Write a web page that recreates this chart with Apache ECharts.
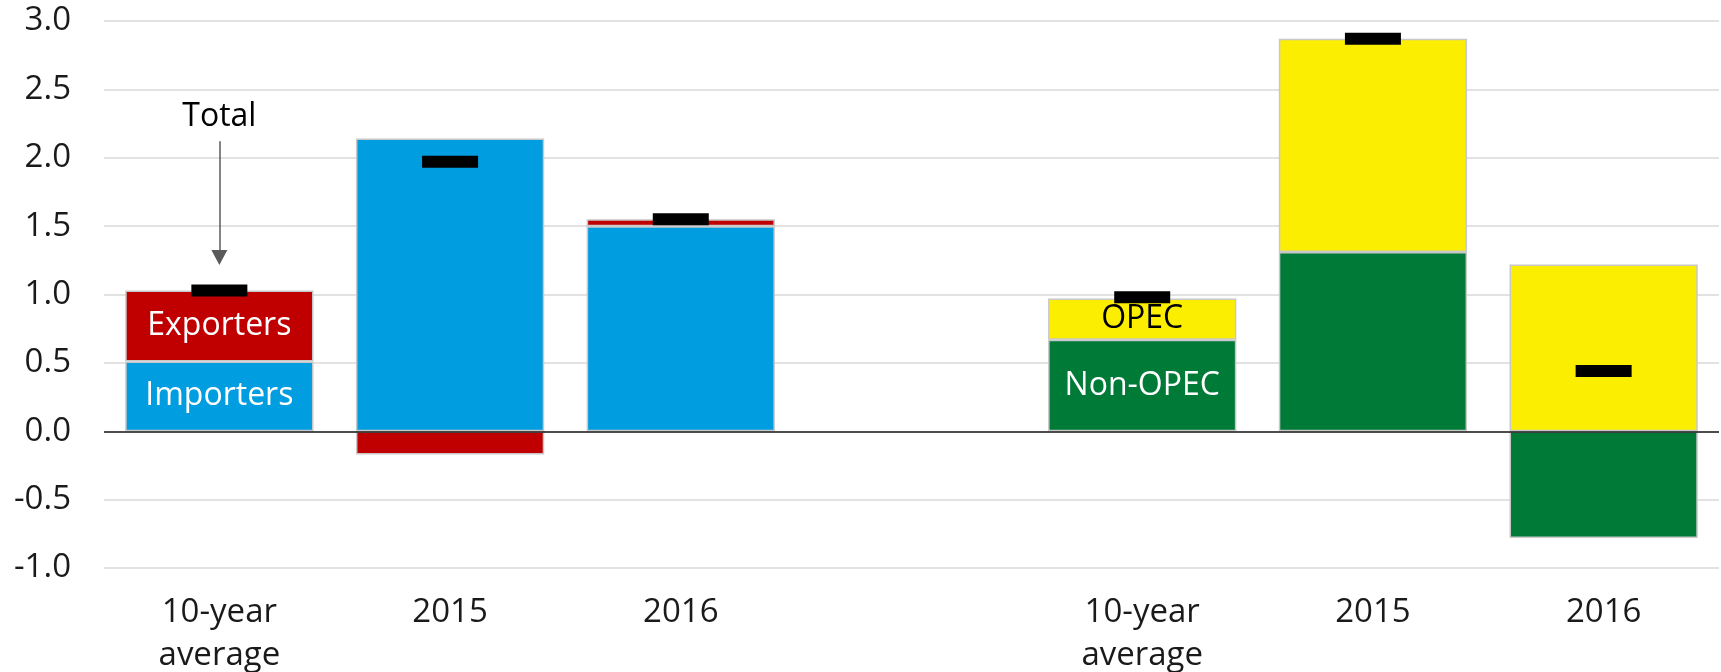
<!DOCTYPE html>
<html>
<head>
<meta charset="utf-8">
<script src="https://cdn.jsdelivr.net/npm/echarts@6/dist/echarts.min.js"></script>
<style>
  html, body { margin: 0; padding: 0; background: #fff; }
  #chart { width: 1721px; height: 672px; }
</style>
</head>
<body>
<div id="chart"></div>
<script>
// categories (empty slot separates the two groups)
const categories = ['10-year\naverage', '2015', '2016', '', '10-year\naverage', '2015', '2016'];
const importers = [0.51, 2.14, 1.50, '-', '-', '-', '-'];
const exporters = [0.52, -0.17, 0.05, '-', '-', '-', '-'];
const nonOpec = ['-', '-', '-', '-', 0.67, 1.31, -0.78];
const opec = ['-', '-', '-', '-', 0.30, 1.56, 1.22];
const totals = [1.03, 1.97, 1.55, '-', 0.98, 2.87, 0.44];

const FONT = '"Open Sans", "Liberation Sans", Arial, sans-serif';
const BORDER = '#c8c8c8';

// put a text label on one bar of a series only
function withLabel(arr, idx, text, color) {
  return arr.map((v, i) => i === idx ? {
    value: v,
    label: { show: true, position: 'inside', formatter: text, color: color, fontSize: 32, fontFamily: FONT }
  } : v);
}

const chart = echarts.init(document.getElementById('chart'));

chart.setOption({
  animation: false,
  grid: { left: 104, right: 2, top: 21, bottom: 104, outerBoundsMode: 'none', containLabel: false },
  xAxis: {
    type: 'category',
    data: categories,
    axisLine: { show: false },
    axisTick: { show: false },
    axisLabel: { color: '#1a1a1a', fontSize: 33, fontFamily: FONT, lineHeight: 43, margin: 23, interval: 0 }
  },
  yAxis: {
    type: 'value',
    min: -1, max: 3, interval: 0.5,
    axisLine: { show: false },
    axisTick: { show: false },
    axisLabel: { color: '#1a1a1a', fontSize: 33, fontFamily: FONT, margin: 33, formatter: v => v.toFixed(1) },
    splitLine: { lineStyle: { color: '#d9d9d9', width: 1.5 } }
  },
  series: [
    {
      name: 'Importers', type: 'bar', stack: 'all', barCategoryGap: '18.4%',
      itemStyle: { color: '#009ee0', borderColor: BORDER, borderWidth: 1.5 },
      data: withLabel(importers, 0, 'Importers', '#fff'),
      markLine: {
        silent: true, symbol: 'none',
        lineStyle: { color: '#1a1a1a', width: 1.5, type: 'solid' },
        label: { show: false },
        data: [{ yAxis: 0 }]
      }
    },
    {
      name: 'Exporters', type: 'bar', stack: 'all',
      itemStyle: { color: '#c00000', borderColor: BORDER, borderWidth: 1.5 },
      data: withLabel(exporters, 0, 'Exporters', '#fff'),
      markLine: {
        silent: true,
        lineStyle: { color: '#5a5a5a', width: 1.5, type: 'solid' },
        data: [[
          { coord: [0, 2.12], symbol: 'none',
            label: { show: true, position: 'start', formatter: 'Total', color: '#000', fontSize: 32, fontWeight: 500, fontFamily: FONT, distance: 8 } },
          { coord: [0, 1.27], symbol: 'triangle', symbolSize: [16, 15], symbolRotate: 180 }
        ]]
      }
    },
    {
      name: 'Non-OPEC', type: 'bar', stack: 'all',
      itemStyle: { color: '#007a37', borderColor: BORDER, borderWidth: 1.5 },
      data: withLabel(nonOpec, 4, 'Non-OPEC', '#fff')
    },
    {
      name: 'OPEC', type: 'bar', stack: 'all',
      itemStyle: { color: '#fcee00', borderColor: BORDER, borderWidth: 1.5 },
      data: withLabel(opec, 4, 'OPEC', '#000')
    },
    {
      name: 'Total', type: 'scatter',
      symbol: 'rect', symbolSize: [56, 12], z: 10,
      itemStyle: { color: '#000', opacity: 1 },
      data: totals
    }
  ]
});
</script>
</body>
</html>
